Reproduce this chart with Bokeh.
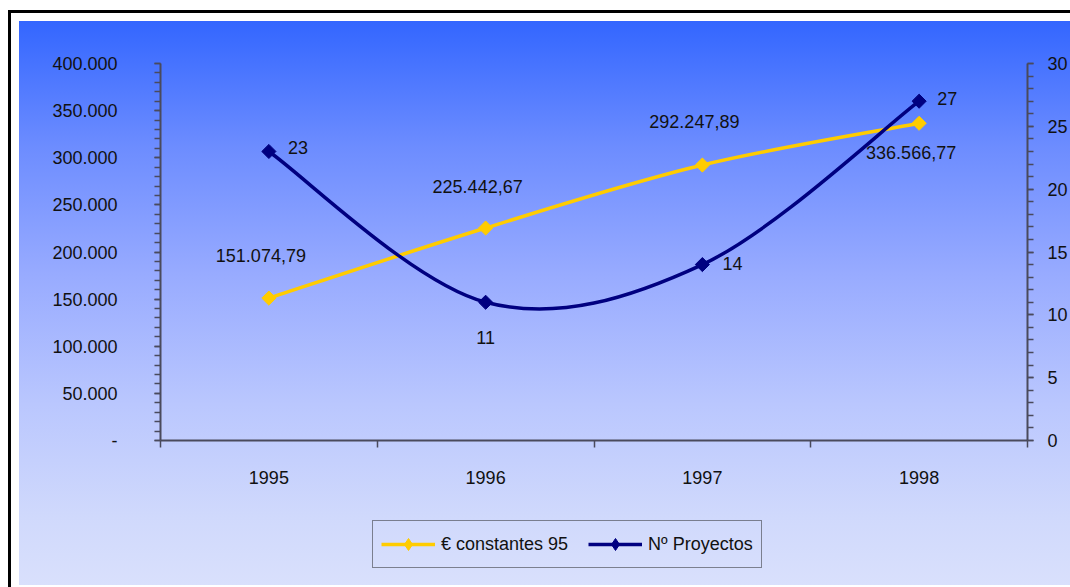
import numpy as np
from bokeh.plotting import figure
from bokeh.layouts import column
from bokeh.models import (LinearAxis, Range1d, FixedTicker, Legend, LegendItem,
                          ColumnDataSource)
from bokeh.core.properties import value
from bokeh.embed import file_html
from bokeh.resources import INLINE

# ---------------- data ----------------
years = ["1995", "1996", "1997", "1998"]
euros = [151074.79, 225442.67, 292247.89, 336566.77]
proyectos = [23, 11, 14, 27]
series_names = ["€ constantes 95", "Nº Proyectos"]
left_ticks = [0, 50000, 100000, 150000, 200000, 250000, 300000, 350000, 400000]
right_ticks = [0, 5, 10, 15, 20, 25, 30]

# ---------------- layout / style ----------------
FONT = "Liberation Sans"
FS = "18px"
YELLOW = "#FFCC00"
NAVY = "#000080"
AXIS_COL = "#4a4a5c"

W, H = 1070, 587
MAIN_H = 500
LEG_H = H - MAIN_H
FRAME_L, FRAME_R, FRAME_T, FRAME_B = 160, 1029, 63, 440

euro_dx = [-8, -8, -8, -8]
euro_dy = [-43, -42, -44, 29]
proj_dx = [19, 0, 20, 18]
proj_dy = [-4, 35, -1, -3]
proj_align = ["left", "center", "left", "left"]


def fmt_es(v, dec):
    s = f"{v:,.{dec}f}"
    return s.replace(",", "X").replace(".", ",").replace("X", ".")


xs = [i + 0.5 for i in range(len(years))]


def bezier_segments(x, y):
    """Excel-like smoothing: cubic Bezier segments with Catmull-Rom control points."""
    n = len(x)
    px = [x[0]] + list(x) + [x[-1]]
    py = [y[0]] + list(y) + [y[-1]]
    seg = dict(x0=[], y0=[], x1=[], y1=[], cx0=[], cy0=[], cx1=[], cy1=[])
    for i in range(n - 1):
        a, b, c, d = i, i + 1, i + 2, i + 3
        seg["x0"].append(px[b]); seg["y0"].append(py[b])
        seg["x1"].append(px[c]); seg["y1"].append(py[c])
        seg["cx0"].append(px[b] + (px[c] - px[a]) / 6.0)
        seg["cy0"].append(py[b] + (py[c] - py[a]) / 6.0)
        seg["cx1"].append(px[c] - (px[d] - px[b]) / 6.0)
        seg["cy1"].append(py[c] - (py[d] - py[b]) / 6.0)
    return seg


grad = ("linear-gradient(to bottom, #3366FF 0%, #6C8CFF 22%, #98ABFF 45%, "
        "#BAC7FE 68%, #D0D9FC 88%, #D9E0FC 100%) 19px 21px / 1051px 564px no-repeat")
bg = (grad + ", linear-gradient(#ffffff,#ffffff) 11px 13px / 1059px 574px no-repeat, "
      "linear-gradient(#000000,#000000) 8px 10px / 1062px 577px no-repeat, #ffffff")

p = figure(width=W, height=MAIN_H, output_backend="svg", toolbar_location=None,
           x_range=Range1d(0, 4), y_range=Range1d(0, 400000),
           min_border_left=FRAME_L, min_border_right=W - FRAME_R,
           min_border_top=FRAME_T, min_border_bottom=MAIN_H - FRAME_B,
           x_axis_type=None, y_axis_type=None)
p.border_fill_alpha = 0
p.background_fill_alpha = 0
p.outline_line_color = None
p.grid.visible = False
p.extra_y_ranges = {"proj": Range1d(0, 30)}

# ---------------- axes ----------------
yl = LinearAxis(ticker=FixedTicker(ticks=left_ticks,
                                   minor_ticks=list(range(0, 400001, 10000))))
yl.major_label_overrides = {t: (fmt_es(t, 0) if t != 0 else "-") for t in left_ticks}
p.add_layout(yl, "left")

yr = LinearAxis(y_range_name="proj",
                ticker=FixedTicker(ticks=right_ticks, minor_ticks=list(range(0, 31))))
p.add_layout(yr, "right")

xa = LinearAxis(ticker=FixedTicker(ticks=xs, minor_ticks=list(range(len(years) + 1))))
xa.major_label_overrides = {x: y for x, y in zip(xs, years)}
p.add_layout(xa, "below")

for ax in (yl, yr, xa):
    ax.axis_line_color = AXIS_COL
    ax.axis_line_width = 2
    ax.major_tick_line_color = AXIS_COL
    ax.minor_tick_line_color = AXIS_COL
    ax.major_tick_line_width = 1.5
    ax.minor_tick_line_width = 1.5
    ax.major_tick_in = 0
    ax.minor_tick_in = 0
    ax.major_label_text_font = FONT
    ax.major_label_text_font_size = FS
    ax.major_label_text_color = "#111111"

yl.major_tick_out = 6
yl.minor_tick_out = 6
yl.major_label_standoff = 37
yr.major_tick_out = 6
yr.minor_tick_out = 6
yr.major_label_standoff = 14
xa.major_tick_out = 0
xa.minor_tick_out = 7
xa.major_label_standoff = 23

# ---------------- series ----------------
src_e = ColumnDataSource(dict(x=xs, y=euros,
                              lab=[fmt_es(v, 2) for v in euros], dx=euro_dx, dy=euro_dy))
src_p = ColumnDataSource(dict(x=xs, y=proyectos,
                              lab=[str(v) for v in proyectos], dx=proj_dx, dy=proj_dy,
                              al=proj_align))

seg_e = ColumnDataSource(bezier_segments(xs, euros))
seg_p = ColumnDataSource(bezier_segments(xs, proyectos))

p.bezier(source=seg_e, x0="x0", y0="y0", x1="x1", y1="y1",
         cx0="cx0", cy0="cy0", cx1="cx1", cy1="cy1",
         line_color=YELLOW, line_width=3.5)
p.scatter("x", "y", source=src_e, marker="square", angle=np.pi / 4, size=10,
          fill_color=YELLOW, line_color=YELLOW)

p.bezier(source=seg_p, x0="x0", y0="y0", x1="x1", y1="y1",
         cx0="cx0", cy0="cy0", cx1="cx1", cy1="cy1",
         line_color=NAVY, line_width=3.5, y_range_name="proj")
p.scatter("x", "y", source=src_p, marker="square", angle=np.pi / 4, size=10,
          fill_color=NAVY, line_color=NAVY, y_range_name="proj")

# data labels
p.text("x", "y", text="lab", source=src_e, x_offset="dx", y_offset="dy",
       text_align="center", text_baseline="middle",
       text_font=value(FONT), text_font_size=FS, text_color="#111111")
p.text("x", "y", text="lab", source=src_p, x_offset="dx", y_offset="dy",
       text_align="al", text_baseline="middle", y_range_name="proj",
       text_font=value(FONT), text_font_size=FS, text_color="#111111")

# ---------------- legend strip ----------------
q = figure(width=W, height=LEG_H, output_backend="svg", toolbar_location=None,
           x_range=Range1d(0, 1), y_range=Range1d(0, 1),
           min_border_left=0, min_border_right=0, min_border_top=0,
           min_border_bottom=0, x_axis_type=None, y_axis_type=None)
q.border_fill_alpha = 0
q.background_fill_alpha = 0
q.outline_line_color = None
q.grid.visible = False

items = []
for name, col in zip(series_names, [YELLOW, NAVY]):
    r1 = q.line([-5, -4], [-5, -5], line_color=col, line_width=3.5)
    r2 = q.scatter([-5], [-5], marker="diamond", size=14, fill_color=col, line_color=col)
    items.append(LegendItem(label=name, renderers=[r1, r2]))

# the column aligns this strip's frame with the main frame (left edge at FRAME_L)
legend = Legend(items=items, orientation="horizontal",
                location=(372 - FRAME_L, LEG_H - (568 - MAIN_H)),
                label_text_font=FONT, label_text_font_size=FS,
                label_text_color="#111111",
                glyph_width=54, glyph_height=30, label_standoff=6, spacing=20,
                padding=8, margin=0,
                border_line_color="#222222", border_line_width=1.5,
                background_fill_alpha=0)
q.add_layout(legend, "center")

layout = column(p, q, spacing=0, styles={"background": bg})

open("out.html", "w").write(file_html(layout, INLINE))
